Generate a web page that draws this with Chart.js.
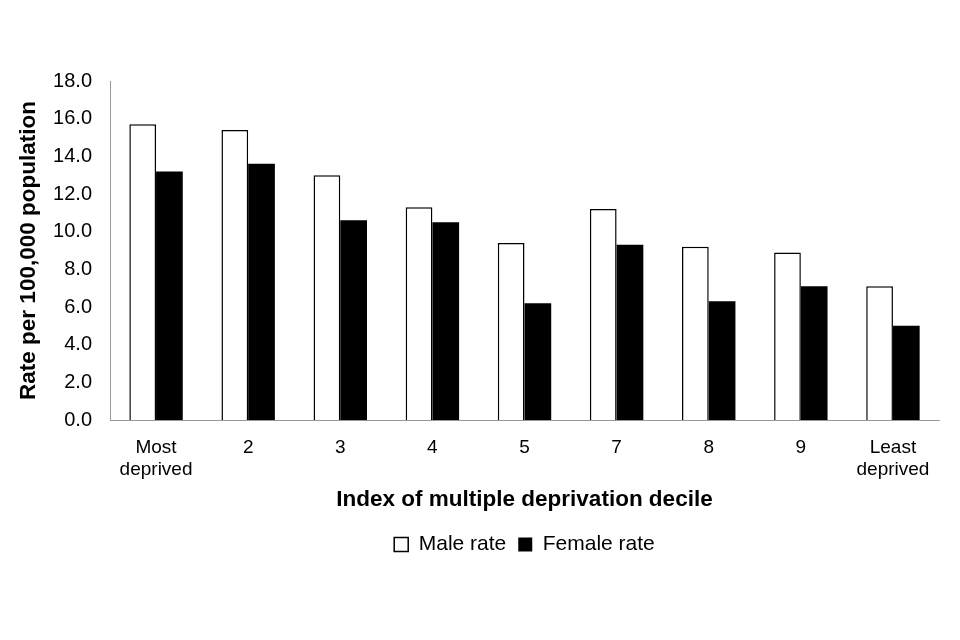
<!DOCTYPE html>
<html>
<head>
<meta charset="utf-8">
<script src="https://cdn.jsdelivr.net/npm/chart.js@4"></script>
<style>
  html, body { margin: 0; padding: 0; background: #fff; }
  #wrap { width: 960px; height: 640px; }
</style>
</head>
<body>
<div id="wrap"><canvas id="mycanvas" width="960" height="640"></canvas></div>
<script>
var deciles = ["Most|deprived", "2", "3", "4", "5", "7", "8", "9", "Least|deprived"];
var maleRate = [15.7, 15.4, 13.0, 11.3, 9.4, 11.2, 9.2, 8.9, 7.1];
var femaleRate = [13.2, 13.6, 10.6, 10.5, 6.2, 9.3, 6.3, 7.1, 5.0];
var yTicks = [0, 2, 4, 6, 8, 10, 12, 14, 16, 18];

var font = "'Liberation Sans', Arial, sans-serif";
Chart.defaults.font.family = font;
Chart.defaults.color = "#000";

var ctx = document.getElementById("mycanvas");
var chart = new Chart(ctx, {
  type: "bar",
  data: {
    labels: deciles.map(function (l) { return l.split("|"); }),
    datasets: [{
      label: "Male rate",
      data: maleRate,
      backgroundColor: "#fff",
      borderColor: "#000",
      borderWidth: 1.5,
      categoryPercentage: 0.58,
      barPercentage: 1
    }, {
      label: "Female rate",
      data: femaleRate,
      backgroundColor: "#000",
      borderColor: "#000",
      borderWidth: 0,
      categoryPercentage: 0.58,
      barPercentage: 1
    }]
  },
  options: {
    responsive: false,
    animation: false,
    layout: { padding: { left: 15, right: 21, top: 81, bottom: 75 } },
    plugins: {
      tooltip: { enabled: false },
      legend: {
        position: "bottom",
        fullSize: false,
        labels: {
          font: { size: 21 },
          boxWidth: 14,
          boxHeight: 14,
          padding: 12,
          useBorderRadius: false
        }
      }
    },
    scales: {
      x: {
        grid: { display: false },
        border: { color: "#999", width: 1 },
        ticks: { font: { size: 19, lineHeight: 1.2 }, padding: 8, maxRotation: 0 },
        title: {
          display: true,
          text: "Index of multiple deprivation decile",
          font: { size: 22.5, weight: "bold" },
          padding: { top: 0, bottom: 9 }
        },
        afterFit: function (axis) { axis.height = 102; }
      },
      y: {
        min: 0,
        max: 18,
        afterBuildTicks: function (axis) {
          axis.ticks = yTicks.map(function (v) { return { value: v }; });
        },
        grid: { display: false },
        border: { color: "#999", width: 1 },
        ticks: {
          font: { size: 20 },
          padding: 10,
          callback: function (v) { return Number(v).toFixed(1); }
        },
        title: {
          display: true,
          text: "Rate per 100,000 population",
          font: { size: 22.5, weight: "bold" },
          padding: { top: 0, bottom: 10 }
        },
        afterFit: function (axis) { axis.width = 95; }
      }
    }
  }
});
</script>
</body>
</html>
